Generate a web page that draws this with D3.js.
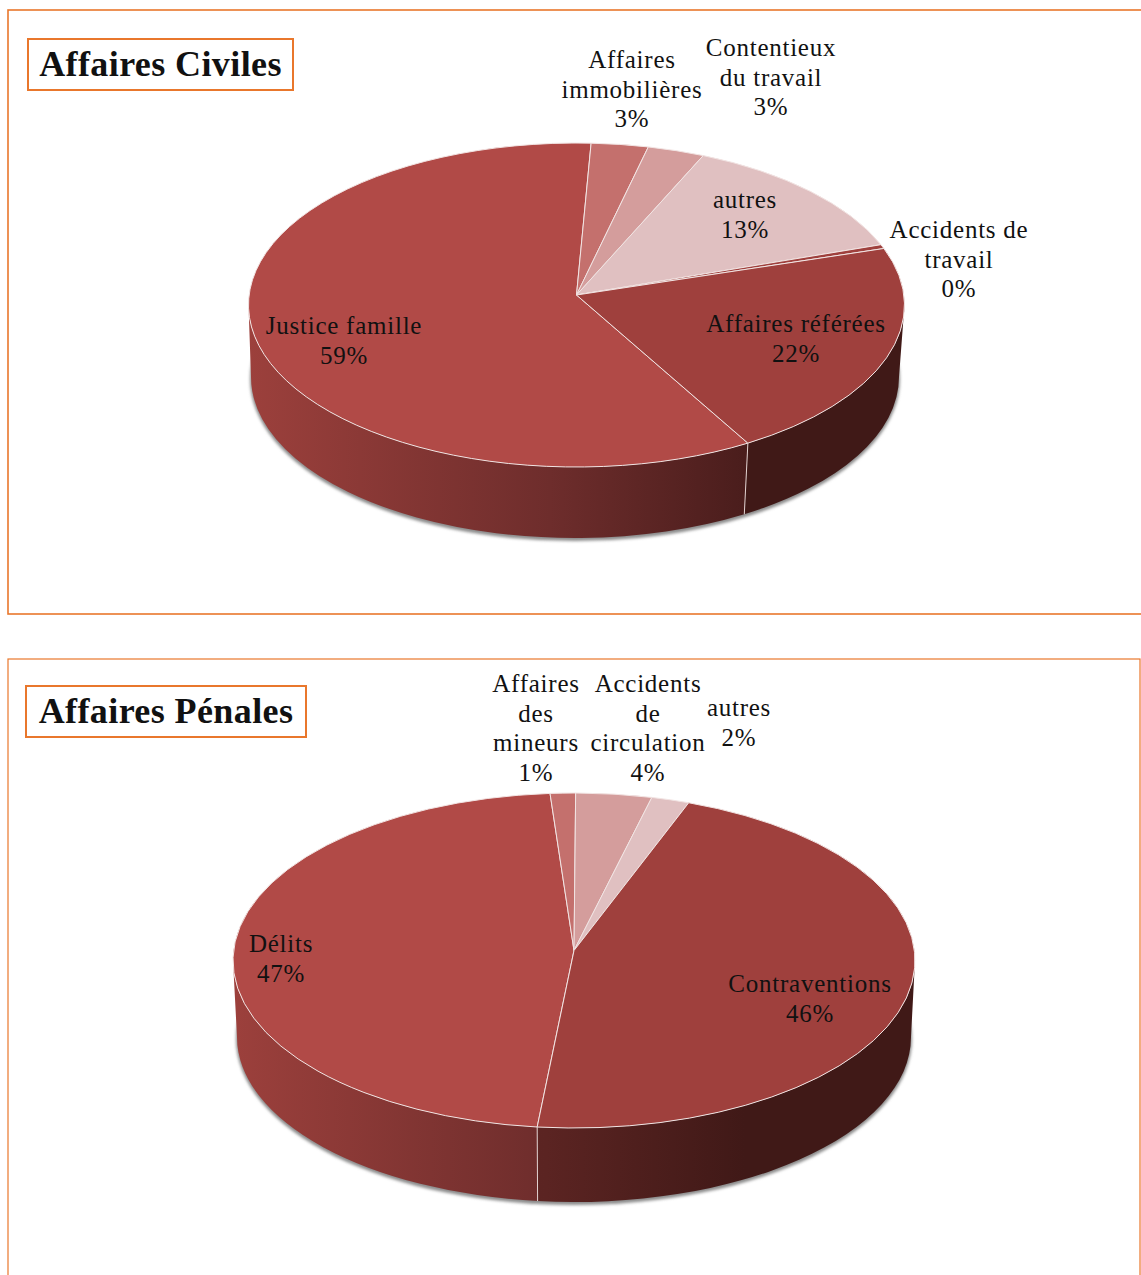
<!DOCTYPE html>
<html>
<head>
<meta charset="utf-8">
<script src="https://cdn.jsdelivr.net/npm/d3@7"></script>
<style>
  body { margin: 0; background: #fff; }
  svg { display: block; }
  text { font-family: "Liberation Serif", serif; fill: #111; }
</style>
</head>
<body>
<div id="my_dataviz"></div>
<script>
// civil cases
var civilNames = [["Justice famille"], ["Affaires", "immobilières"], ["Contentieux", "du travail"], ["autres"], ["Accidents de", "travail"], ["Affaires référées"]];
var civilValues = [59.4, 2.8, 2.8, 12.6, 0.4, 21.9];
var civilColors = ["#b14a47", "#c4706d", "#d49d9c", "#e0c0c1", "#9f403d", "#9f403d"];
var civilLabelPos = [[344, 334], [632, 68], [771, 56], [745, 208], [959, 238], [796, 332]];

// penal cases
var penalNames = [["Délits"], ["Affaires", "des", "mineurs"], ["Accidents", "de", "circulation"], ["autres"], ["Contraventions"]];
var penalValues = [47.3, 1.2, 3.6, 1.8, 46.4];
var penalColors = ["#b14a47", "#c4706d", "#d49d9c", "#e0c0c1", "#9f403d"];
var penalLabelPos = [[281, 952], [536, 692], [648, 692], [739, 716], [810, 992]];

var orange = "#e9772c";

var svg = d3.select("#my_dataviz")
  .append("svg")
    .attr("width", 1141)
    .attr("height", 1275);

var defs = svg.append("defs");
defs.append("filter").attr("id", "blur")
    .attr("x", "-5%").attr("y", "-5%").attr("width", "110%").attr("height", "110%")
  .append("feGaussianBlur").attr("stdDeviation", 1.6);

// outer frames, both run off the page on purpose
svg.append("rect").attr("x", 8).attr("y", 10).attr("width", 1200).attr("height", 604)
    .attr("fill", "none").attr("stroke", orange).attr("stroke-width", 1.6);
svg.append("rect").attr("x", 8).attr("y", 659).attr("width", 1132).attr("height", 700)
    .attr("fill", "none").attr("stroke", orange).attr("stroke-width", 1.2);

function rad(deg) { return deg * Math.PI / 180; }

function drawPie(cfg) {
  var g = svg.append("g");

  // title box
  g.append("rect")
      .attr("x", cfg.box[0]).attr("y", cfg.box[1])
      .attr("width", cfg.box[2]).attr("height", cfg.box[3])
      .attr("fill", "#fff").attr("stroke", orange).attr("stroke-width", 2);
  g.append("text")
      .attr("x", cfg.box[0] + cfg.box[2] / 2)
      .attr("y", cfg.box[1] + 37)
      .attr("text-anchor", "middle")
      .style("font-size", "36px")
      .style("font-weight", "bold")
      .style("letter-spacing", cfg.titleSpacing)
      .text(cfg.title);

  var top = cfg.top, bot = cfg.bottom;
  function px(e, a) { return e.cx + e.rx * Math.sin(a); }
  function py(e, a) { return e.cy - e.ry * Math.cos(a); }

  var pie = d3.pie().sort(null).value(function(d) { return d; })
      .startAngle(rad(cfg.start)).endAngle(rad(cfg.start) + 2 * Math.PI);
  var arcs = pie(cfg.values);

  // wall shading goes left to right over the whole pie
  [["L", cfg.id + "wallL", [[0, "#9c403c"], [0.46, "#6e2d2c"], [0.76, "#4a1d1c"], [1, "#401917"]]],
   ["R", cfg.id + "wallR", [[0, "#6a2b29"], [0.46, "#5b2422"], [0.75, "#401917"], [1, "#401917"]]]]
  .forEach(function(s) {
    var grad = defs.append("linearGradient").attr("id", s[1])
        .attr("gradientUnits", "userSpaceOnUse")
        .attr("x1", top.cx - top.rx).attr("x2", top.cx + top.rx)
        .attr("y1", 0).attr("y2", 0);
    s[2].forEach(function(st) {
      grad.append("stop").attr("offset", st[0]).attr("stop-color", st[1]);
    });
  });

  // soft shadow under the disc
  g.append("ellipse")
      .attr("cx", bot.cx).attr("cy", bot.cy + 2)
      .attr("rx", bot.rx + 1).attr("ry", bot.ry + 1)
      .attr("fill", "#8c8c8c")
      .attr("filter", "url(#blur)");

  // side wall, only the part of each slice that faces us
  var front = [[Math.PI / 2, 3 * Math.PI / 2], [5 * Math.PI / 2, 7 * Math.PI / 2]];
  arcs.forEach(function(d, i) {
    front.forEach(function(f) {
      var a0 = Math.max(d.startAngle, f[0]), a1 = Math.min(d.endAngle, f[1]);
      if (a1 <= a0) return;
      var p = d3.path();
      var large = a1 - a0 > Math.PI ? 1 : 0;
      var path = "M" + px(top, a0) + "," + py(top, a0)
        + "A" + top.rx + "," + top.ry + " 0 " + large + " 1 " + px(top, a1) + "," + py(top, a1)
        + "L" + px(bot, a1) + "," + py(bot, a1)
        + "A" + bot.rx + "," + bot.ry + " 0 " + large + " 0 " + px(bot, a0) + "," + py(bot, a0) + "Z";
      g.append("path")
          .attr("d", path)
          .attr("fill", "url(#" + cfg.id + (i == 0 ? "wallL" : "wallR") + ")");
    });
  });

  // light seam between the walls
  g.append("line")
      .attr("x1", px(top, rad(cfg.start))).attr("y1", py(top, rad(cfg.start)))
      .attr("x2", px(bot, rad(cfg.start))).attr("y2", py(bot, rad(cfg.start)))
      .attr("stroke", "#e3d2d0").attr("stroke-width", 1);

  // top face, apex sits a bit above the ellipse centre
  g.selectAll("path.slice")
    .data(arcs)
    .enter()
    .append("path")
      .attr("class", "slice")
      .attr("d", function(d) {
        var large = d.endAngle - d.startAngle > Math.PI ? 1 : 0;
        return "M" + top.cx + "," + (top.cy - cfg.apexUp)
          + "L" + px(top, d.startAngle) + "," + py(top, d.startAngle)
          + "A" + top.rx + "," + top.ry + " 0 " + large + " 1 " + px(top, d.endAngle) + "," + py(top, d.endAngle) + "Z";
      })
      .attr("fill", function(d, i) { return cfg.colors[i]; })
      .attr("stroke", "#f2e4e3")
      .attr("stroke-width", 1)
      .attr("stroke-linejoin", "round");

  // labels, name lines then the percent
  var labels = g.selectAll("text.label")
    .data(arcs)
    .enter()
    .append("text")
      .attr("class", "label")
      .attr("text-anchor", "middle")
      .style("font-size", "25px")
      .style("letter-spacing", "0.75px");
  labels.each(function(d, i) {
    var lines = cfg.names[i].concat([Math.round(d.value) + "%"]);
    d3.select(this).selectAll("tspan")
      .data(lines)
      .enter()
      .append("tspan")
        .attr("x", cfg.labelPos[i][0])
        .attr("y", function(l, k) { return cfg.labelPos[i][1] + k * 29.7; })
        .text(function(l) { return l; });
  });
}

drawPie({
  id: "civil",
  title: "Affaires Civiles",
  titleSpacing: "0.4px",
  box: [28, 39, 265, 51],
  top: {cx: 576.5, cy: 305, rx: 328, ry: 162},
  bottom: {cx: 575, cy: 377, rx: 324, ry: 161},
  apexUp: 10,
  start: 148.5,
  names: civilNames,
  values: civilValues,
  colors: civilColors,
  labelPos: civilLabelPos
});

drawPie({
  id: "penal",
  title: "Affaires Pénales",
  titleSpacing: "0.4px",
  box: [26, 686, 280, 51],
  top: {cx: 574, cy: 960.5, rx: 341, ry: 167.5},
  bottom: {cx: 574, cy: 1037, rx: 337, ry: 165},
  apexUp: 10,
  start: 186.2,
  names: penalNames,
  values: penalValues,
  colors: penalColors,
  labelPos: penalLabelPos
});
</script>
</body>
</html>
